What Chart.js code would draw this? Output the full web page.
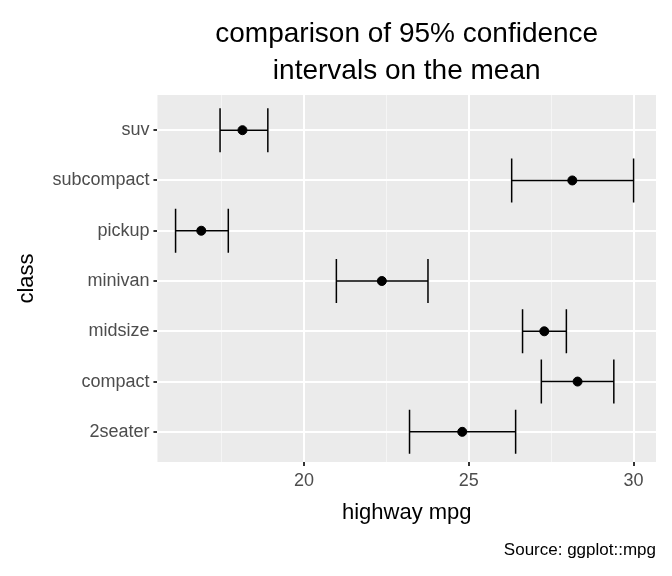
<!DOCTYPE html>
<html>
<head>
<meta charset="utf-8">
<script src="https://cdn.jsdelivr.net/npm/chart.js@4"></script>
<style>
  body { margin: 0; background: #fff; }
</style>
</head>
<body>
<canvas id="ciChart" width="672" height="576"></canvas>
<script>
// classes, top to bottom as in the picture
const classes = ["suv", "subcompact", "pickup", "minivan", "midsize", "compact", "2seater"]
const means = [18.13, 28.14, 16.88, 22.36, 27.29, 28.30, 24.80]
const lower = [17.45, 26.30, 16.10, 20.98, 26.63, 27.20, 23.20]
const upper = [18.90, 30.00, 17.70, 23.76, 27.96, 29.40, 26.42]
const xTicks = [20, 25, 30]

const FONT = "'Liberation Sans', Arial, sans-serif"

// gray panel behind the plot
const panelBackground = {
  id: "panelBackground",
  beforeDraw(chart) {
    const { ctx, chartArea } = chart
    ctx.save()
    ctx.fillStyle = "#EBEBEB"
    ctx.fillRect(chartArea.left, chartArea.top, chartArea.right - chartArea.left, chartArea.bottom - chartArea.top)
    ctx.restore()
  },
}

// error bars with caps, plus the title and caption
const errorBars = {
  id: "errorBars",
  afterDatasetsDraw(chart) {
    const { ctx, scales } = chart
    const xs = scales.x
    const ys = scales.y
    ctx.save()
    ctx.strokeStyle = "#000"
    ctx.lineWidth = 1.5
    classes.forEach((c, i) => {
      const y = ys.getPixelForValue(i)
      const x0 = xs.getPixelForValue(lower[i])
      const x1 = xs.getPixelForValue(upper[i])
      ctx.beginPath()
      ctx.moveTo(x0, y)
      ctx.lineTo(x1, y)
      ctx.moveTo(x0, y - 22)
      ctx.lineTo(x0, y + 22)
      ctx.moveTo(x1, y - 22)
      ctx.lineTo(x1, y + 22)
      ctx.stroke()
    })
    ctx.restore()
  },
  afterDraw(chart) {
    const { ctx, chartArea } = chart
    ctx.save()
    ctx.fillStyle = "#000"
    ctx.textAlign = "center"
    ctx.font = "28px " + FONT
    const cx = (chartArea.left + chartArea.right) / 2
    ctx.fillText("comparison of 95% confidence", cx, 42)
    ctx.fillText("intervals on the mean", cx, 79)
    ctx.textAlign = "right"
    ctx.font = "17px " + FONT
    ctx.fillText("Source: ggplot::mpg", 656, 555)
    ctx.restore()
  },
}

new Chart(document.getElementById("ciChart"), {
  type: "scatter",
  data: {
    datasets: [
      {
        data: means.map((m, i) => ({ x: m, y: i })),
        backgroundColor: "#000",
        borderColor: "#000",
        pointRadius: 4.5,
      },
    ],
  },
  options: {
    responsive: false,
    animation: false,
    layout: { padding: { top: 95, right: 16, bottom: 50, left: 14 } },
    plugins: { legend: { display: false }, tooltip: { enabled: false } },
    scales: {
      x: {
        type: "linear",
        min: 15.55,
        max: 30.68,
        afterBuildTicks: (axis) => {
          axis.ticks = [17.5, 20, 22.5, 25, 27.5, 30].map((v) => ({ value: v }))
        },
        grid: {
          color: (c) => (c.tick && xTicks.includes(c.tick.value) ? "#fff" : "#F5F5F5"),
          lineWidth: (c) => (c.tick && xTicks.includes(c.tick.value) ? 2 : 1),
          tickLength: 4,
          tickColor: (c) => (c.tick && xTicks.includes(c.tick.value) ? "#333" : "rgba(0,0,0,0)"),
        },
        border: { display: false },
        ticks: {
          color: "#4D4D4D",
          font: { size: 18, family: FONT },
          callback: (v) => (xTicks.includes(v) ? String(v) : ""),
          padding: 4,
        },
        title: {
          display: true,
          text: "highway mpg",
          color: "#000",
          font: { size: 22, family: FONT },
          padding: { top: 4, bottom: 0 },
        },
      },
      y: {
        type: "linear",
        min: -0.7,
        max: 6.6,
        reverse: true,
        afterBuildTicks: (axis) => {
          axis.ticks = classes.map((c, i) => ({ value: i }))
        },
        grid: { color: "#fff", lineWidth: 2, tickLength: 4, tickColor: "#333" },
        border: { display: false },
        ticks: {
          color: "#4D4D4D",
          font: { size: 18, family: FONT },
          callback: (v) => classes[v],
          padding: 4,
        },
        title: {
          display: true,
          text: "class",
          color: "#000",
          font: { size: 22, family: FONT },
          padding: { top: 0, bottom: 8 },
        },
      },
    },
  },
  plugins: [panelBackground, errorBars],
})
</script>
</body>
</html>
